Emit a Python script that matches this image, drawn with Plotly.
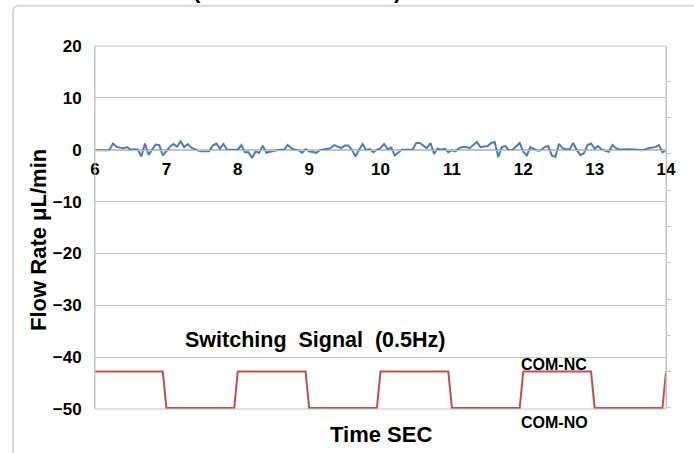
import plotly.graph_objects as go

# ---- data ----
time_s = [round(6 + 0.05 * i, 2) for i in range(161)]
flow_rate = [
    -0.1, -0.1, -0.1, -0.1, -0.1, 1.2, 0.6, 0.4, 0.3, 0.5,
    0.0, 0.1, 0.0, -1.3, 1.2, -1.0, 0.0, 1.0, 0.9, -1.1,
    -0.3, 0.6, 1.1, 0.6, 1.6, 0.5, 1.1, 0.4, 0.1, -0.2,
    -0.3, -0.3, -0.3, 0.8, 1.2, 0.2, 1.1, 0.0, 0.0, 0.0,
    0.0, 0.9, -0.5, -0.5, -1.6, -0.3, -0.6, 0.8, -0.6, -0.4,
    -0.2, -0.1, 0.0, 0.0, 0.9, 0.3, 0.0, -0.1, -0.6, 0.1,
    -0.3, -0.4, -0.6, -0.1, 0.0, 0.2, 0.3, 0.9, 0.6, 0.3,
    0.8, 0.8, 0.0, -1.3, 0.0, 1.1, -0.1, 0.1, -0.5, 0.0,
    0.3,
    1.1, 0.1, 0.4, -1.1, -0.5, 0.0, 0.0, 0.0, 0.0, 1.3,
    1.3, 0.8, 0.3, 1.3, -0.8, 0.2, 0.0, 0.2, -0.5, -0.1,
    -0.3, 0.3, 0.5, 0.5, 0.3, 0.9, 1.5, 0.5, 0.6, 0.7,
    1.3, 1.5, -1.4, 0.5, 0.7, -0.1, 0.0, 0.7, 1.3, -0.4,
    -1.1, 0.5, 0.2, -0.2, -0.1, 0.5, 0.7, -1.1, -1.4, 1.1,
    0.3, 0.1, 0.1, 1.3, -0.1, -1.0, -0.7, 0.9, 1.2, 0.2,
    0.7, 0.0, -0.2, -0.4, 0.9, 0.3, 0.0, 0.1, 0.1, 0.1,
    0.1, 0.0, -0.1, 0.0, 0.3, 0.4, 0.5, 0.9, -0.5, -0.1,
]
signal_time = [6.0, 6.95, 7.0, 7.95, 8.0, 8.95, 9.0, 9.95, 10.0,
               10.95, 11.0, 11.95, 12.0, 12.95, 13.0, 13.95, 14.0]
signal_level = [1, 1, 0, 0, 1, 1, 0, 0, 1, 1, 0, 0, 1, 1, 0, 0, 1]

x_ticks = [6, 7, 8, 9, 10, 11, 12, 13, 14]
y_ticks = [20, 10, 0, -10, -20, -30, -40, -50]
y_range = [-50, 20]

FONT = "Liberation Sans, Arial, sans-serif"
GRID = "#c4c4c4"

fig = go.Figure()
fig.add_trace(go.Scatter(x=time_s, y=flow_rate, mode="lines",
                         line=dict(color="#4a7ebb", width=2), yaxis="y",
                         showlegend=False, hoverinfo="skip"))
fig.add_trace(go.Scatter(x=signal_time, y=signal_level, mode="lines",
                         line=dict(color="#c0504d", width=2), yaxis="y2",
                         showlegend=False, hoverinfo="skip"))

zero_pos = (0 - y_range[0]) / (y_range[1] - y_range[0])

fig.update_layout(
    width=694, height=453,
    margin=dict(l=95, r=28, t=46, b=44, autoexpand=False),
    paper_bgcolor="white", plot_bgcolor="white",
    font=dict(family=FONT, color="#000000"),
    xaxis=dict(range=[6, 14], tickvals=x_ticks, anchor="free", position=zero_pos,
               showgrid=False, zeroline=False, showline=True, linecolor=GRID,
               linewidth=1, ticks="", ticklabelstandoff=4, automargin=False,
               tickfont=dict(size=17, family=FONT, weight="bold")),
    yaxis=dict(range=y_range, tickvals=y_ticks, showgrid=True, gridcolor=GRID,
               gridwidth=1, zeroline=False, showline=True, linecolor=GRID,
               ticks="", ticklabelstandoff=9, automargin=False,
               tickfont=dict(size=17, family=FONT, weight="bold")),
    yaxis2=dict(range=[-0.03, 9.97], dtick=1, overlaying="y", side="right",
                showgrid=False, zeroline=False, showline=True, linecolor=GRID,
                showticklabels=False, ticks="outside", ticklen=4, tickcolor=GRID,
                automargin=False),
)

# plot-area box
fig.add_shape(type="rect", xref="paper", yref="paper", x0=0, y0=0, x1=1, y1=1,
              line=dict(color=GRID, width=1), layer="above")
# outer chart frame (rounded top-left)
fig.add_shape(type="path", xref="paper", yref="paper",
              path="M -0.1436,-0.3 L -0.1436,1.094 Q -0.1436,1.111 -0.132,1.111 L 1.3,1.111",
              line=dict(color="#d9d9d9", width=2))

ann_font = dict(family=FONT, color="#000000", weight="bold")


def note(text, x, y, size, **kw):
    fig.add_annotation(text=text, xref="paper", yref="paper", x=x, y=y,
                       xanchor="center", yanchor=kw.pop("yanchor", "middle"),
                       showarrow=False, font=dict(size=size, **ann_font), **kw)


note("Flow Rate μL/min", -0.099, 0.467, 22, textangle=-90)
note("Time SEC", 0.501, -0.069, 22)
note("Switching\u00a0 Signal\u00a0 (0.5Hz)", 0.385, 0.190, 21.5)
note("COM-NC", 0.804, 0.122, 16)
note("COM-NO", 0.804, -0.037, 16)
# cropped chart title (only bottoms of parentheses visible)
note("(", 0.179, 1.192, 22, yanchor="top")
note(")", 0.529, 1.192, 22, yanchor="top")

fig.write_html("out.html", post_script="document.body.style.margin='0';",
               config={"displayModeBar": False})
